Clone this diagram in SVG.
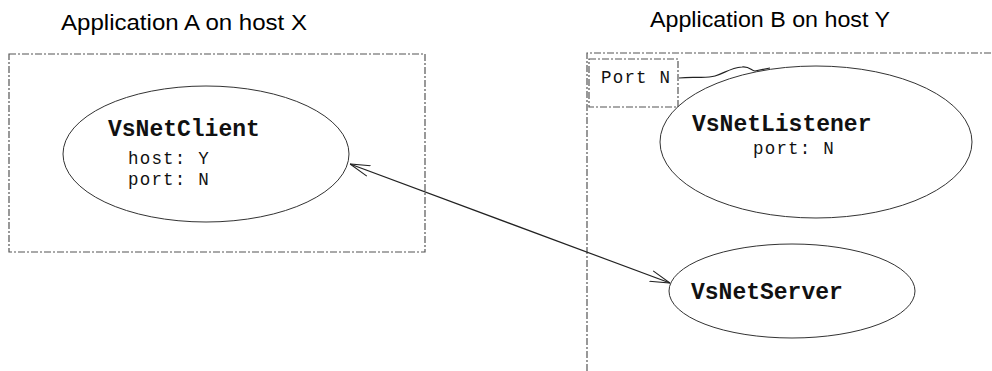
<svg xmlns="http://www.w3.org/2000/svg" width="992" height="371" viewBox="0 0 992 371">
<style>
  .title { font-family: "Liberation Sans", Arial, sans-serif; font-size: 22px; fill: #000; }
  .name { font-family: "Liberation Mono", "Courier New", monospace; font-size: 23px; font-weight: bold; fill: #111; }
  .attr { font-family: "Liberation Mono", "Courier New", monospace; font-size: 17.5px; letter-spacing: 1.2px; fill: #111; }
  .frame { fill: none; stroke: #555; stroke-width: 1.2; stroke-dasharray: 7 2 2 2; }
  .node { fill: none; stroke: #333; stroke-width: 1; }
  .conn { fill: none; stroke: #222; stroke-width: 1.2; }
</style>
<defs>
  <marker id="open" viewBox="0 0 20 12" refX="20" refY="6" markerWidth="20" markerHeight="12" markerUnits="userSpaceOnUse" orient="auto-start-reverse">
    <path d="M0,0.5 L20,6 L0,11.5" fill="none" stroke="#222" stroke-width="1.1"/>
  </marker>
</defs>
<rect width="992" height="371" fill="#fff"/>

<g id="appA">
  <text class="title" x="61" y="30" textLength="246" lengthAdjust="spacingAndGlyphs">Application A on host X</text>
  <rect class="frame" x="9" y="54" width="416" height="198"/>
</g>

<g id="appB">
  <text class="title" x="650" y="27" textLength="240" lengthAdjust="spacingAndGlyphs">Application B on host Y</text>
  <path class="frame" d="M587,371 L587,53 L992,53"/>
</g>

<g id="portN">
  <rect class="frame" x="589" y="59" width="89" height="48"/>
  <text class="attr" x="601" y="83">Port N</text>
</g>

<g id="vsNetClient">
  <ellipse class="node" cx="206" cy="154" rx="143" ry="68"/>
  <text class="name" x="108" y="136">VsNetClient</text>
  <text class="attr" x="128" y="164">host: Y</text>
  <text class="attr" x="128" y="185">port: N</text>
</g>

<g id="vsNetListener">
  <ellipse class="node" cx="816" cy="142" rx="156" ry="76"/>
  <text class="name" x="692" y="131">VsNetListener</text>
  <text class="attr" x="753" y="154">port: N</text>
</g>

<g id="vsNetServer">
  <ellipse class="node" cx="792" cy="291" rx="123" ry="47"/>
  <text class="name" x="691" y="299">VsNetServer</text>
</g>

<g id="connectors">
  <path class="conn" d="M350,164 L670,283" marker-start="url(#open)" marker-end="url(#open)"/>
  <path class="conn" d="M679,78 C695,76 705,79 715,76 C725,73 730,68 742,67 C750,66 751,71 755,71 C760,70 765,69 770,68"/>
</g>
</svg>
